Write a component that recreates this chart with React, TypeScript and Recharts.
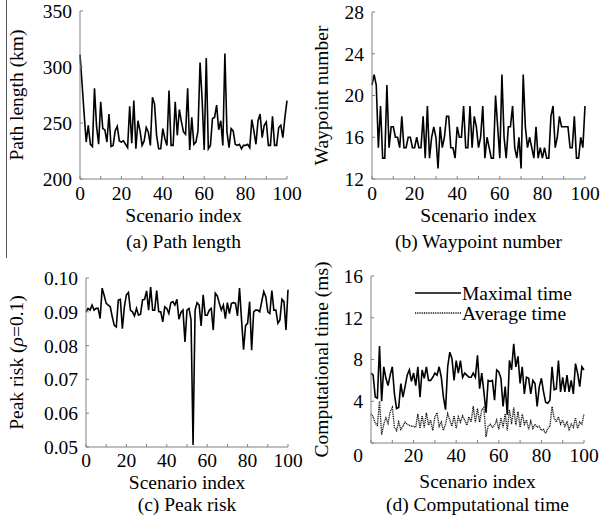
import React from 'react';
import { LineChart, Line, XAxis, YAxis, Legend, Label } from 'recharts';

const FONT = '"Liberation Serif", "Times New Roman", serif';
const AXIS_COLOR = '#808080';
const FS = 19.5;

// scenario index 0..100
const scenarioIndex = [
  0, 1, 2, 3, 4, 5, 6, 7, 8, 9, 10, 11, 12, 13, 14, 15, 16, 17, 18, 19, 20,
  21, 22, 23, 24, 25, 26, 27, 28, 29, 30, 31, 32, 33, 34, 35, 36, 37, 38, 39, 40,
  41, 42, 43, 44, 45, 46, 47, 48, 49, 50, 51, 52, 53, 54, 55, 56, 57, 58, 59, 60,
  61, 62, 63, 64, 65, 66, 67, 68, 69, 70, 71, 72, 73, 74, 75, 76, 77, 78, 79, 80,
  81, 82, 83, 84, 85, 86, 87, 88, 89, 90, 91, 92, 93, 94, 95, 96, 97, 98, 99, 100,
];

const pathLength = [
  311, 285, 258, 233, 248, 231, 229, 281, 247, 231,
  269, 245, 244, 233, 258, 229, 230, 243, 247, 234,
  233, 234, 231, 228, 265, 232, 270, 227, 252, 243,
  230, 234, 246, 242, 230, 273, 267, 239, 227, 227,
  245, 236, 230, 279, 230, 230, 269, 239, 262, 251,
  242, 240, 281, 226, 255, 231, 233, 243, 304, 271,
  226, 308, 227, 230, 254, 255, 266, 244, 252, 230,
  312, 242, 228, 245, 243, 231, 230, 231, 227, 230,
  230, 231, 228, 253, 243, 231, 252, 258, 237, 248,
  251, 230, 230, 256, 230, 230, 246, 248, 237, 255,
  270,
];

const waypointNumber = [
  21, 22, 21, 15, 19, 14, 14, 21, 15, 17,
  17, 16, 16, 15, 18, 15, 15, 16, 16, 15,
  15, 16, 15, 15, 18, 14, 19, 14, 16, 17,
  16, 13, 17, 15, 16, 18, 18, 15, 15, 14,
  17, 16, 16, 19, 15, 15, 19, 15, 18, 17,
  15, 16, 19, 14, 16, 15, 14, 14, 20, 17,
  14, 22, 16, 14, 17, 17, 19, 15, 14, 16,
  13, 22, 17, 15, 16, 15, 14, 17, 14, 15,
  14, 15, 14, 14, 18, 19, 15, 16, 18, 17,
  17, 17, 17, 15, 15, 18, 14, 14, 16, 15,
  19,
];

const peakRisk = [
  0.0900, 0.0910, 0.0905, 0.0920, 0.0905, 0.0910, 0.0910, 0.0880, 0.0970, 0.0948,
  0.0925, 0.0920, 0.0915, 0.0885, 0.0860, 0.0855, 0.0935, 0.0937, 0.0850, 0.0915,
  0.0950, 0.0957, 0.0905, 0.0900, 0.0888, 0.0910, 0.0890, 0.0893, 0.0935, 0.0937,
  0.0962, 0.0905, 0.0973, 0.0905, 0.0905, 0.0963, 0.0900, 0.0900, 0.0870, 0.0915,
  0.0910, 0.0895, 0.0927, 0.0930, 0.0920, 0.0937, 0.0878, 0.0898, 0.0905, 0.0811,
  0.0905, 0.0910, 0.0876, 0.0506, 0.0905, 0.0927, 0.0920, 0.0858, 0.0950, 0.0890,
  0.0890, 0.0905, 0.0910, 0.0846, 0.0955, 0.0947, 0.0925, 0.0905, 0.0920, 0.0880,
  0.0927, 0.0895, 0.0925, 0.0927, 0.0925, 0.0888, 0.0970, 0.0876, 0.0788, 0.0860,
  0.0866, 0.0930, 0.0786, 0.0900, 0.0905, 0.0905, 0.0900, 0.0930, 0.0960, 0.0945,
  0.0900, 0.0895, 0.0963, 0.0905, 0.0905, 0.0866, 0.0876, 0.0937, 0.0930, 0.0846,
  0.0965,
];

const maximalTime = [
  6.7, 6.5, 4.4, 4.3, 9.3, 4.0, 7.3, 6.2, 5.5, 6.5,
  7.3, 4.7, 3.3, 3.4, 5.7, 4.4, 5.4, 6.5, 7.0, 5.9,
  6.7, 5.5, 7.3, 4.4, 7.0, 6.2, 7.3, 6.0, 6.0, 6.3,
  6.7, 6.5, 7.3, 6.3, 4.4, 3.2, 7.3, 8.7, 8.1, 6.0,
  7.9, 6.7, 7.9, 6.3, 6.7, 6.5, 6.3, 6.3, 6.7, 6.3,
  8.4, 5.2, 6.7, 4.9, 2.9, 6.0, 5.9, 6.0, 4.1, 7.0,
  6.8, 6.2, 3.5, 5.4, 2.7, 7.9, 7.0, 9.5, 7.3, 8.3,
  5.7, 7.3, 4.7, 6.3, 6.2, 4.7, 6.0, 5.7, 3.5, 5.4,
  6.2, 4.9, 3.9, 3.8, 4.1, 7.3, 5.1, 5.2, 7.9, 4.9,
  6.3, 4.9, 6.5, 4.9, 6.0, 4.7, 7.6, 6.7, 5.4, 7.3,
  7.0,
];

const averageTime = [
  2.8, 2.5, 1.9, 1.7, 4.0, 0.8, 1.8, 2.4, 1.9, 3.0,
  3.4, 1.5, 1.2, 2.0, 1.3, 1.6, 2.0, 1.8, 1.7, 1.6,
  1.6, 1.5, 2.8, 1.4, 2.6, 1.5, 2.9, 1.7, 2.2, 1.2,
  2.5, 2.9, 1.6, 2.0, 1.2, 1.8, 2.8, 2.2, 1.6, 2.6,
  1.4, 2.5, 2.0, 2.6, 2.2, 1.7, 2.5, 2.0, 3.5, 2.0,
  3.3, 2.0, 3.2, 3.4, 0.6, 1.6, 1.8, 1.5, 1.7, 2.2,
  1.3, 2.4, 1.5, 2.8, 1.2, 3.2, 1.8, 3.4, 1.7, 3.0,
  1.5, 2.8, 1.8, 2.2, 1.3, 2.1, 1.4, 1.8, 1.5, 1.6,
  1.2, 1.3, 0.9, 1.4, 1.6, 3.5, 2.4, 2.0, 2.5, 1.8,
  2.2, 1.6, 2.0, 1.3, 1.8, 1.5, 2.4, 1.4, 2.0, 1.8,
  2.8,
];

const xTicks = [0, 10, 20, 30, 40, 50, 60, 70, 80, 90, 100];
const pathTicks = [200, 250, 300, 350];
const waypointTicks = [12, 16, 20, 24, 28];
const riskTicks = [0.05, 0.06, 0.07, 0.08, 0.09, 0.1];
const timeTicks = [0, 4, 8, 12, 16];

type Series = { key: string; name: string; values: number[]; dash?: string; color: string; width: number };

const tickStyle = { fill: '#000', fontSize: FS, fontFamily: FONT };

const yTitle = (content: React.ReactNode, cxOff: number) => (props: any) => {
  const vb = props.viewBox;
  const cx = vb.x + cxOff;
  const cy = vb.y + vb.height / 2;
  return (
    <text x={cx} y={cy} dy="0.35em" textAnchor="middle" transform={`rotate(-90 ${cx} ${cy})`}
      fontFamily={FONT} fontSize={FS} fill="#000">{content}</text>
  );
};

const xText = (text: string, baseline: number) => (props: any) => {
  const vb = props.viewBox;
  return (
    <text x={vb.x + vb.width / 2} y={vb.y + baseline} textAnchor="middle"
      fontFamily={FONT} fontSize={FS} fill="#000">{text}</text>
  );
};

const ZeroLowTick = (props: any) => {
  const { x, y, payload } = props;
  const shift = payload.value === 0 ? 12 : 0;
  return (
    <text x={x} y={y + shift} dy="0.35em" textAnchor="end" fontFamily={FONT} fontSize={FS} fill="#000">
      {payload.value}
    </text>
  );
};

const TimeLegend = ({ series }: { series: Series[] }) => (
  <svg width={180} height={44}>
    {series.map((s, i) => (
      <g key={s.key}>
        <line x1={0} x2={46} y1={10 + i * 20} y2={10 + i * 20} stroke={s.color} strokeWidth={s.width}
          strokeDasharray={s.dash} />
        <text x={47} y={10 + i * 20 + 6.5} fontFamily={FONT} fontSize={FS} fill="#000">{s.name}</text>
      </g>
    ))}
  </svg>
);

interface PanelProps {
  left: number;
  top: number;
  width: number;
  height: number;
  marginTop: number;
  marginRight: number;
  yWidth: number;
  xHeight: number;
  domain: [number, number];
  yTicks: number[];
  yFormat?: (v: number) => string;
  yLabel: React.ReactNode;
  yLabelX: number;
  tickMargin: number;
  titleBase: number;
  caption: string;
  captionBase: number;
  hideZeroX?: boolean;
  zeroLow?: boolean;
  series: Series[];
  legend?: boolean;
}

const Panel = (p: PanelProps) => {
  const data = scenarioIndex.map((x, i) => {
    const row: Record<string, number> = { x };
    p.series.forEach((s) => {
      row[s.key] = s.values[i];
    });
    return row;
  });
  const xFmt = (v: number) => (v % 20 === 0 && !(p.hideZeroX && v === 0) ? String(v) : '');
  return (
    <div style={{ position: 'absolute', left: p.left, top: p.top, fontFamily: FONT }}>
      <LineChart width={p.width} height={p.height} data={data}
        margin={{ top: p.marginTop, right: p.marginRight, bottom: 0, left: 0 }}>
        <XAxis dataKey="x" type="number" domain={[0, 100]} ticks={xTicks} tickFormatter={xFmt}
          height={p.xHeight} stroke={AXIS_COLOR} tickSize={-3} tickMargin={p.tickMargin} tick={tickStyle}
          interval={0}>
          <Label content={xText('Scenario index', p.titleBase)} />
          <Label content={xText(p.caption, p.captionBase)} />
        </XAxis>
        <XAxis xAxisId="top" orientation="top" dataKey="x" type="number" domain={[0, 100]} ticks={xTicks}
          height={0} stroke={AXIS_COLOR} tickSize={-3} tick={false} interval={0} />
        <YAxis type="number" domain={p.domain} ticks={p.yTicks} width={p.yWidth} stroke={AXIS_COLOR}
          tickSize={-3} tickMargin={11} interval={0} tickFormatter={p.yFormat}
          tick={p.zeroLow ? <ZeroLowTick /> : tickStyle}>
          <Label content={yTitle(p.yLabel, p.yLabelX)} />
        </YAxis>
        <YAxis yAxisId="right" orientation="right" type="number" domain={p.domain} ticks={p.yTicks}
          width={0} stroke={AXIS_COLOR} tickSize={-3} tick={false} interval={0} />
        {p.legend && (
          <Legend layout="vertical" align="center" verticalAlign="middle"
            wrapperStyle={{ left: 115, top: 23, width: 180 }}
            content={() => <TimeLegend series={p.series} />} />
        )}
        {p.series.map((s) => (
          <Line key={s.key} dataKey={s.key} name={s.name} type="linear" stroke={s.color}
            strokeWidth={s.width} strokeDasharray={s.dash} dot={false} activeDot={false}
            isAnimationActive={false} />
        ))}
      </LineChart>
    </div>
  );
};

export default function App() {
  return (
    <div style={{ position: 'absolute', left: 0, top: 0, width: 600, height: 524, background: '#fff', fontFamily: FONT }}>
      <div style={{ position: 'absolute', left: 6, top: 0, width: 1, height: 258, background: '#555' }} />
      <Panel left={0} top={0} width={310} height={260} marginTop={11} marginRight={23} yWidth={80}
        xHeight={81} domain={[200, 350]} yTicks={pathTicks} yLabel="Path length (km)" yLabelX={16}
        tickMargin={10} titleBase={43} caption="(a) Path length" captionBase={69}
        series={[{ key: 'len', name: 'Path length', values: pathLength, color: '#000', width: 1.6 }]} />
      <Panel left={300} top={0} width={300} height={260} marginTop={12} marginRight={15} yWidth={72}
        xHeight={81} domain={[12, 28]} yTicks={waypointTicks} yLabel="Waypoint number" yLabelX={21}
        tickMargin={10} titleBase={43} caption="(b) Waypoint number" captionBase={69}
        series={[{ key: 'wp', name: 'Waypoint number', values: waypointNumber, color: '#000', width: 1.6 }]} />
      <Panel left={0} top={260} width={310} height={264} marginTop={18} marginRight={22} yWidth={86}
        xHeight={77} domain={[0.05, 0.1]} yTicks={riskTicks} yFormat={(v) => v.toFixed(2)}
        yLabel={<>Peak risk (<tspan fontStyle="italic">ρ</tspan>=0.1)</>} yLabelX={16}
        tickMargin={9} titleBase={42} caption="(c) Peak risk" captionBase={64}
        series={[{ key: 'risk', name: 'Peak risk', values: peakRisk, color: '#000', width: 1.6 }]} />
      <Panel left={300} top={260} width={300} height={264} marginTop={16} marginRight={16} yWidth={71}
        xHeight={81} domain={[0, 16]} yTicks={timeTicks} yLabel="Computational time (ms)" yLabelX={21}
        tickMargin={8} titleBase={45} caption="(d) Computational time" captionBase={68}
        hideZeroX zeroLow legend
        series={[
          { key: 'max', name: 'Maximal time', values: maximalTime, color: '#000', width: 1.6 },
          { key: 'avg', name: 'Average time', values: averageTime, color: '#111', width: 1.4, dash: '1 0.8' },
        ]} />
    </div>
  );
}
